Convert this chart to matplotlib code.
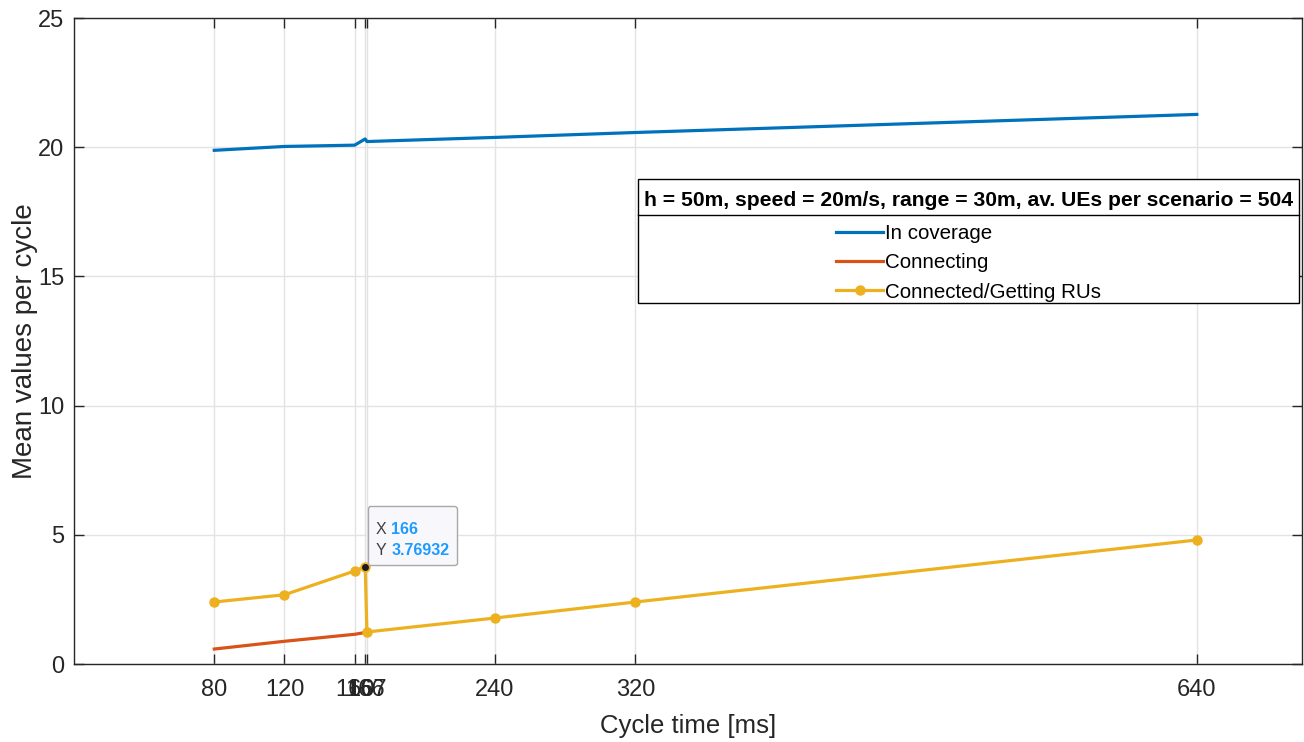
import matplotlib
matplotlib.use("Agg")
import numpy as np
import matplotlib.pyplot as plt
from matplotlib.offsetbox import TextArea, HPacker, VPacker, AnnotationBbox, DrawingArea
from matplotlib.lines import Line2D
from matplotlib.patches import Rectangle
from matplotlib.transforms import IdentityTransform

plt.rcParams['font.family'] = ['Liberation Sans', 'DejaVu Sans']

# data
cycle_time = [80, 120, 160, 166, 167, 240, 320, 640]
in_coverage = [19.88, 20.03, 20.08, 20.32, 20.22, 20.38, 20.57, 21.27]
connecting = [0.58, 0.88, 1.15, 1.22, 1.24, np.nan, np.nan, np.nan]
connected = [2.40, 2.68, 3.60, 3.76932, 1.24, 1.78, 2.40, 4.80]
tip_x, tip_y = 166, 3.76932

legend_title = 'h = 50m, speed = 20m/s, range = 30m, av. UEs per scenario = 504'
labels = ['In coverage', 'Connecting', 'Connected/Getting RUs']

blue = '#0072BD'
red = '#D95319'
yellow = '#EDB120'
dark = '#262626'

fig = plt.figure(figsize=(13.04, 7.42), dpi=100)
ax = fig.add_axes([0.0567, 0.1051, 0.9418, 0.8706])

ax.plot(cycle_time, in_coverage, color=blue, lw=2.3, label=labels[0])
ax.plot(cycle_time, connecting, color=red, lw=2.3, label=labels[1])
ax.plot(cycle_time, connected, color=yellow, lw=2.3, marker='o', ms=6.5,
        label=labels[2])

# data tip
ax.plot([tip_x], [tip_y], 'o', color='#1a1a1a', ms=4, zorder=5)
gray_txt = dict(color='#404040', fontsize=11.5)
blue_txt = dict(color='#1E9BFF', fontsize=11.5, fontweight='bold')
row_x = HPacker(children=[TextArea('X', textprops=gray_txt),
                          TextArea(str(tip_x), textprops=blue_txt)], pad=0, sep=4)
row_y = HPacker(children=[TextArea('Y', textprops=gray_txt),
                          TextArea(f'{tip_y:g}', textprops=blue_txt)], pad=0, sep=4)
tip_box = VPacker(children=[DrawingArea(0, 2.5), row_x, row_y], pad=0, sep=4,
                  align='left')
ab = AnnotationBbox(tip_box, (tip_x, tip_y), xybox=(7.2, 6.2), xycoords='data',
                    boxcoords='offset points', box_alignment=(0, 0),
                    frameon=True, zorder=6)
ab.patch.set_facecolor('#F8F8FC')
ab.patch.set_edgecolor('#A8A8A8')
ab.patch.set_linewidth(1.0)
ab.patch.set_boxstyle('round,pad=0.5,rounding_size=0.15')
ax.add_artist(ab)

ax.set_xlim(0, 700)
ax.set_ylim(0, 25)
ax.set_xticks(cycle_time)
ax.set_yticks([0, 5, 10, 15, 20, 25])
ax.grid(True, color='#E3E3E3', lw=1.0)
ax.set_axisbelow(True)
ax.tick_params(direction='in', length=7, width=1, colors=dark, labelsize=17,
               top=True, right=True)
ax.tick_params(axis='x', pad=11)
ax.tick_params(axis='y', pad=7)
for sp in ax.spines.values():
    sp.set_color(dark)
    sp.set_linewidth(1.0)

ax.set_xlabel('Cycle time [ms]', fontsize=18.5, color=dark, labelpad=9)
ax.set_ylabel('Mean values per cycle', fontsize=20, color=dark, labelpad=0)

leg = ax.legend(title=legend_title, loc='upper left',
                bbox_to_anchor=(638 / 1304, (742 - 185) / 742),
                bbox_transform=fig.transFigure, frameon=False,
                fontsize=14.8, handlelength=2.3,
                handletextpad=0.1, labelspacing=0.5, borderpad=0.3,
                title_fontproperties={'weight': 'bold', 'size': 15.2},
                borderaxespad=0)
leg._legend_box.sep = 10
leg.set_zorder(5)

# legend frame and separator line under the legend title
fig.canvas.draw()
lb = leg.get_window_extent()
tb = leg.get_title().get_window_extent()
y_sep = tb.y0 - 5
y_top = lb.y1 + 6
y_bot = lb.y0 + 5
frame = Rectangle((lb.x0, y_bot), lb.x1 - lb.x0, y_top - y_bot,
                  transform=IdentityTransform(), facecolor='white',
                  edgecolor='black', lw=1.0, zorder=4.5)
ax.add_artist(frame)
frame.set_clip_on(False)
sep = Line2D([lb.x0, lb.x1], [y_sep, y_sep], transform=IdentityTransform(),
             color='black', lw=1.0, zorder=10)
ax.add_artist(sep)
sep.set_clip_on(False)

fig.savefig('out.png', dpi=100)
